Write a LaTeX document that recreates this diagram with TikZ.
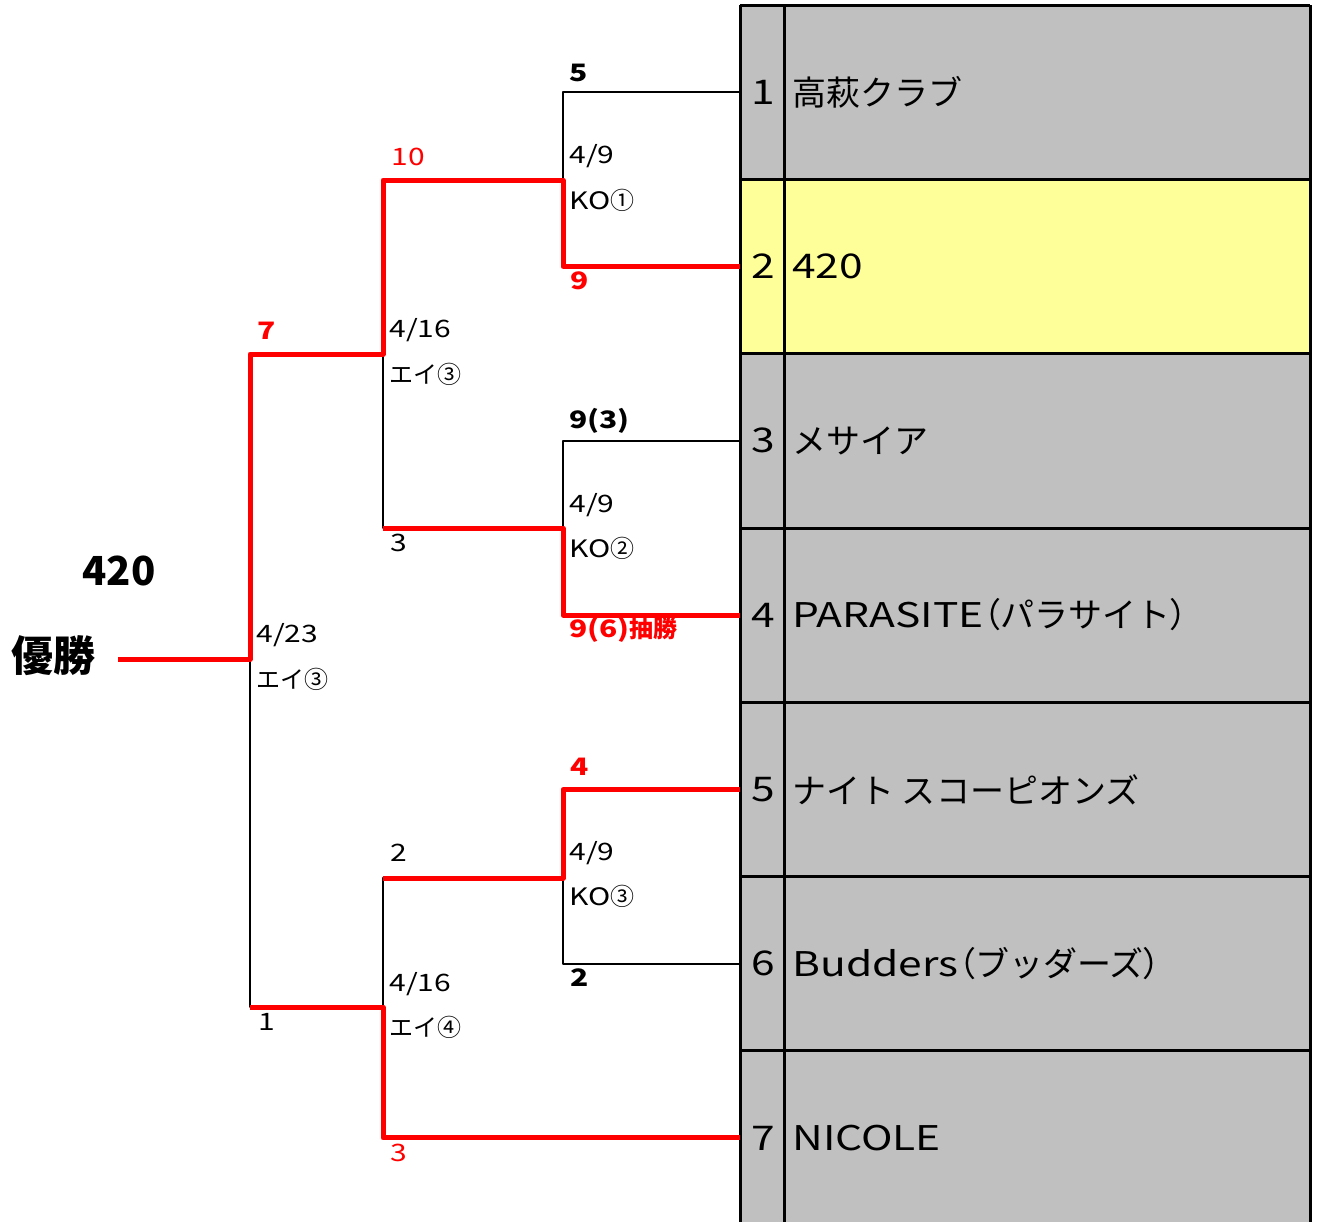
\documentclass[tikz,border=0pt]{standalone}
\usepackage{fontspec}
\setmainfont{Noto Sans CJK JP}
\newfontfamily\wide{Noto Sans CJK JP}[FakeStretch=1.25]
\newfontfamily\tight{Noto Sans CJK JP}[RawFeature=+palt]
\definecolor{cellgray}{HTML}{C0C0C0}
\definecolor{cellyellow}{HTML}{FFFF99}
\begin{document}
\begin{tikzpicture}[x=0.5pt,y=-0.5pt,line join=round,
	lbl/.style={anchor=west,inner sep=0pt,font=\fontsize{12}{14}\selectfont},
	score/.style={anchor=west,inner sep=0pt,font=\fontsize{12}{14}\selectfont\bfseries},
	big/.style={inner sep=0pt,font=\fontsize{20}{24}\selectfont\bfseries},
	cell/.style={inner sep=0pt,font=\fontsize{17}{20}\selectfont},
	tie/.style={black,line width=1pt},
	win/.style={red,line width=2.5pt}]
	\useasboundingbox (0,0) rectangle (1318,1222);
	% team table
	\fill[cellgray] (740,5) rectangle (1310,1222);
	\fill[cellyellow] (740,180) rectangle (1310,354);
	\foreach \i/\team in {1/高萩クラブ,2/{\wide 420},3/メサイア,
		4/{\wide PARASITE}{\tight（}パラサイト{\tight）},
		5/ナイト スコーピオンズ,
		6/{\wide Budders}{\tight（}ブッダーズ{\tight）},7/{\wide NICOLE}}{
		\pgfmathsetmacro\rowtop{5+174.33*(\i-1)}
		\draw[line width=1.5pt] (740,\rowtop)--(1310,\rowtop);
		\coordinate (t\i) at (740,\rowtop+87);
		\node[cell] (n\i) at (763,\rowtop+87) {\wide\i};
		\node[cell,anchor=west] (team\i) at (792,\rowtop+87) {\team};
	}
	\draw[line width=1.5pt]
		(740,5)--(740,1222)
		(784,5)--(784,1222)
		(1310,5)--(1310,1222)
		;
	% bracket points
	\coordinate (m1) at (563,180);
	\coordinate (m2) at (563,528);
	\coordinate (m3) at (563,878);
	\coordinate (s1) at (383,354);
	\coordinate (s2) at (383,1007);
	\coordinate (f) at (250,659);
	\coordinate (w) at (118,659);
	\draw[tie]
		(t1) -| (m1) |- (t2)
		(t3) -| (m2) |- (t4)
		(t5) -| (m3) |- (t6)
		(m1) -| (s1) |- (m2)
		(m3) -| (s2) |- (t7)
		(s1) -| (f) |- (s2)
		;
	\draw[win]
		(t2) -| (m1) -| (s1) -| (f) -- (w)
		(t4) -| (m2) -- (s1 |- m2)
		(t5) -| (m3) -- (s2 |- m3)
		(t7) -| (s2) -- (f |- s2)
		;
	% first round
	\node[score] (r1a) at (569,73) {\wide 5};
	\node[lbl] (d1) at (569,156) {\wide 4/9};
	\node[lbl] (k1) at (569,200) {{\wide KO}①};
	\node[score,red] (r1b) at (570,281) {\wide 9};
	\node[score] (r2a) at (569,421) {\wide 9(3)};
	\node[lbl] (d2) at (569,505) {\wide 4/9};
	\node[lbl] (k2) at (569,548) {{\wide KO}②};
	\node[score,red] (r2b) at (569,630) {{\wide 9(6)}抽勝};
	\node[score,red] (r3a) at (570,767) {\wide 4};
	\node[lbl] (d3) at (569,853) {\wide 4/9};
	\node[lbl] (k3) at (569,896) {{\wide KO}③};
	\node[score] (r3b) at (570,978) {\wide 2};
	% semifinals
	\node[lbl,red] (r4a) at (391,157) {\wide 10};
	\node[lbl] (d4) at (389,330) {\wide 4/16};
	\node[lbl] (k4) at (389,374) {エイ③};
	\node[lbl] (r4b) at (390,543) {\wide 3};
	\node[lbl] (r5a) at (390,853) {\wide 2};
	\node[lbl] (d5) at (389,984) {\wide 4/16};
	\node[lbl] (k5) at (389,1027) {エイ④};
	\node[lbl,red] (r5b) at (390,1153) {\wide 3};
	% final
	\node[score,red] (r6a) at (257,331) {\wide 7};
	\node[lbl] (d6) at (256,635) {\wide 4/23};
	\node[lbl] (k6) at (256,679) {エイ③};
	\node[lbl] (r6b) at (258,1022) {\wide 1};
	\node[big] (champ) at (119,571) {420};
	\node[big,font=\fontsize{21}{25}\selectfont\bfseries] (title) at (53,656) {優勝};
\end{tikzpicture}
\end{document}
